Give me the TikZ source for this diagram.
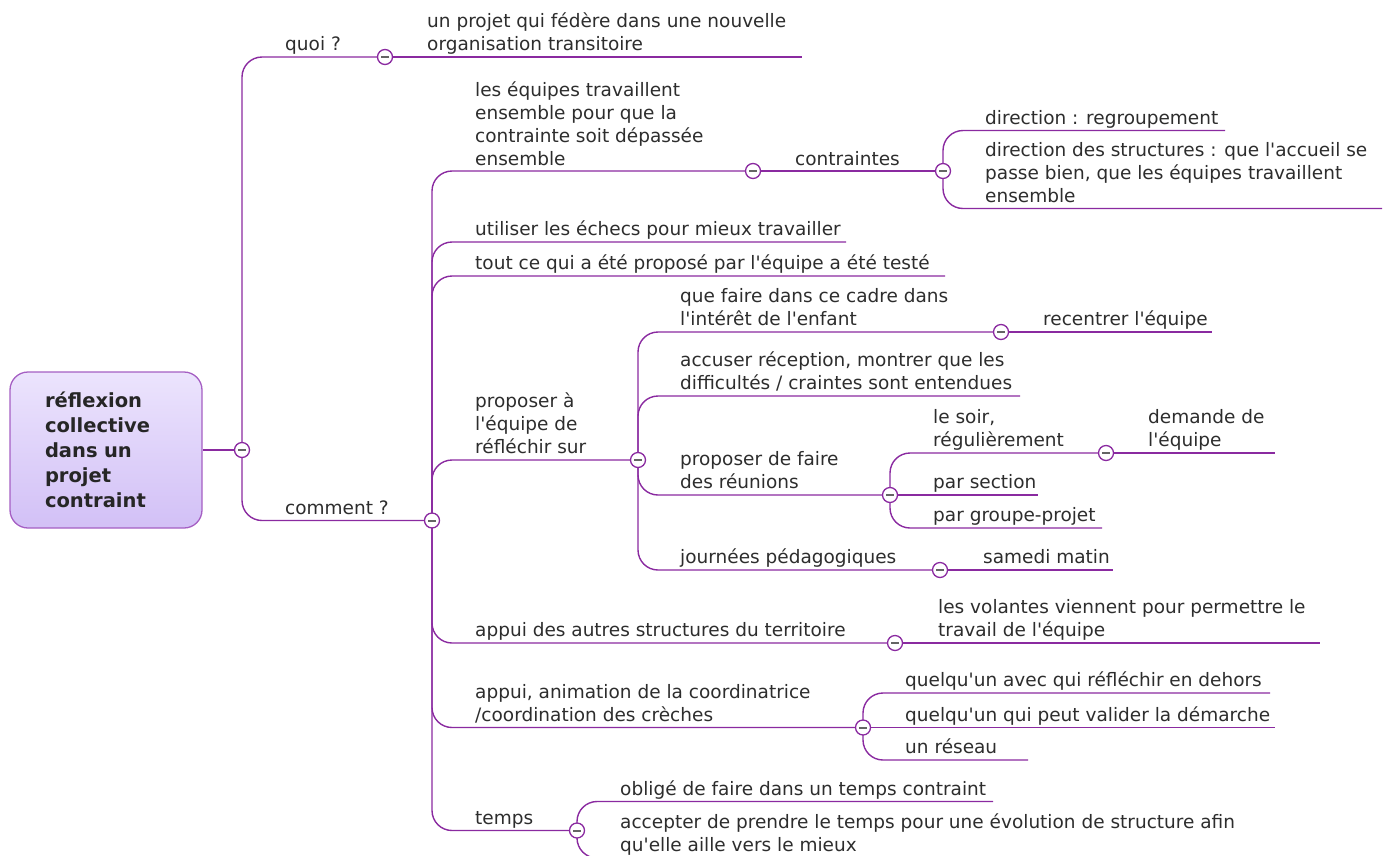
\documentclass[tikz,border=0pt]{standalone}
\usepackage{fontspec}
\setmainfont{DejaVu Sans}
\definecolor{linec}{RGB}{138,42,160}
\definecolor{txtc}{RGB}{45,45,45}
\definecolor{boxline}{RGB}{165,95,195}
\definecolor{boxtop}{RGB}{236,228,253}
\definecolor{boxbot}{RGB}{210,192,246}
\definecolor{minusc}{RGB}{100,100,100}
\newcommand\mlines[1]{\begin{tabular}[b]{@{}l@{}}#1\end{tabular}}
\newcommand\ap{\textquotesingle}
\pgfdeclarelayer{bg}
\pgfsetlayers{bg,main}
\tikzset{
  conn/.style={draw=linec, line width=1.4pt, rounded corners=20pt},
  lbl/.style={anchor=base west, inner sep=0pt, text=txtc, font=\fontsize{18.5}{23}\selectfont},
  knob/.style={circle, draw=linec, fill=white, line width=1.3pt, minimum size=15pt, inner sep=0pt,
    path picture={\draw[minusc, line width=2pt] ([xshift=-3.6pt]path picture bounding box.center) -- ([xshift=3.6pt]path picture bounding box.center);}},
  rootbox/.style={rectangle, rounded corners=18pt, draw=boxline, line width=1.3pt, top color=boxtop, bottom color=boxbot,
    minimum width=192pt, minimum height=156pt, text width=122pt, align=left, inner sep=0pt,
    font=\bfseries\fontsize{19.5}{25}\selectfont, text=black!85}
}
\begin{document}
\begin{tikzpicture}[x=1pt,y=-1pt]
\useasboundingbox (0,0) rectangle (1391,855);

% root
\node[rootbox] (root) at (106,450) {réflexion\\collective\\dans un\\projet\\contraint};

% knobs
\node[knob] (K0) at (242,450) {};
\node[knob] (Kq) at (385,57) {};
\node[knob] (Kc) at (432,520.5) {};
\node[knob] (K1) at (753,171) {};
\node[knob] (K2) at (943,171) {};
\node[knob] (Kp) at (638,460) {};
\node[knob] (Ka) at (1001,332) {};
\node[knob] (Kr) at (890,495) {};
\node[knob] (Ks) at (1106,453) {};
\node[knob] (Kj) at (940,570) {};
\node[knob] (Kv) at (895,643) {};
\node[knob] (Kn) at (863,727.5) {};
\node[knob] (Kt) at (577,830.5) {};

% end points
\coordinate (eq) at (802,57);
\coordinate (e21) at (1225,130.5);
\coordinate (e22) at (1382,208.5);
\coordinate (ec2) at (846,242);
\coordinate (ec3) at (945,276);
\coordinate (ea) at (1212,332);
\coordinate (eb) at (1020,396);
\coordinate (es) at (1275,453);
\coordinate (esec) at (1038,495);
\coordinate (egp) at (1102,528);
\coordinate (ej) at (1113,570);
\coordinate (ev) at (1320,643);
\coordinate (en1) at (1270,693);
\coordinate (en2) at (1275,727.5);
\coordinate (en3) at (1028,760);
\coordinate (et1) at (993,801.5);
\coordinate (et2) at (1250,858);

% connectors
\begin{pgfonlayer}{bg}
\draw[conn] (root.east) -- (K0.center);
\draw[conn] (K0.center) |- (Kq.center);
\draw[conn] (Kq.center) -- (eq);
\draw[conn] (K0.center) |- (Kc.center);
\draw[conn] (Kc.center) |- (K1.center);
\draw[conn] (K1.center) -- (K2.center);
\draw[conn] (K2.center) |- (e21);
\draw[conn] (K2.center) |- (e22);
\draw[conn] (Kc.center) |- (ec2);
\draw[conn] (Kc.center) |- (ec3);
\draw[conn] (Kc.center) |- (Kp.center);
\draw[conn] (Kp.center) |- (Ka.center);
\draw[conn] (Ka.center) -- (ea);
\draw[conn] (Kp.center) |- (eb);
\draw[conn] (Kp.center) |- (Kr.center);
\draw[conn] (Kr.center) |- (Ks.center);
\draw[conn] (Ks.center) -- (es);
\draw[conn] (Kr.center) -- (esec);
\draw[conn] (Kr.center) |- (egp);
\draw[conn] (Kp.center) |- (Kj.center);
\draw[conn] (Kj.center) -- (ej);
\draw[conn] (Kc.center) |- (Kv.center);
\draw[conn] (Kv.center) -- (ev);
\draw[conn] (Kc.center) |- (Kn.center);
\draw[conn] (Kn.center) |- (en1);
\draw[conn] (Kn.center) -- (en2);
\draw[conn] (Kn.center) |- (en3);
\draw[conn] (Kc.center) |- (Kt.center);
\draw[conn] (Kt.center) |- (et1);
\draw[conn] (Kt.center) |- (et2);
\end{pgfonlayer}

% labels
\node[lbl] (tq) at (285,50.5) {quoi ?};
\node[lbl] (tq1) at (427,50.5) {\mlines{un projet qui fédère dans une nouvelle\\organisation transitoire}};
\node[lbl] (tc) at (285,514) {comment ?};
\node[lbl] (t1) at (475,165) {\mlines{les équipes travaillent\\ensemble pour que la\\contrainte soit dépassée\\ensemble}};
\node[lbl] (t2) at (795,165) {contraintes};
\node[lbl] (t21) at (985,124) {direction : regroupement};
\node[lbl] (t22) at (985,202) {\mlines{direction des structures : que l\ap accueil se\\passe bien, que les équipes travaillent\\ensemble}};
\node[lbl] (tc2) at (475,235.5) {utiliser les échecs pour mieux travailler};
\node[lbl] (tc3) at (475,269.5) {tout ce qui a été proposé par l\ap équipe a été testé};
\node[lbl] (tp) at (475,453.5) {\mlines{proposer à\\l\ap équipe de\\réfléchir sur}};
\node[lbl] (ta) at (680,325.5) {\mlines{que faire dans ce cadre dans\\l\ap intérêt de l\ap enfant}};
\node[lbl] (ta1) at (1043,325.5) {recentrer l\ap équipe};
\node[lbl] (tb) at (680,389.5) {\mlines{accuser réception, montrer que les\\difficultés / craintes sont entendues}};
\node[lbl] (tr) at (680,488.5) {\mlines{proposer de faire\\des réunions}};
\node[lbl] (ts) at (933,446.5) {\mlines{le soir,\\régulièrement}};
\node[lbl] (ts1) at (1148,446.5) {\mlines{demande de\\l\ap équipe}};
\node[lbl] (tsec) at (933,488.5) {par section};
\node[lbl] (tgp) at (933,521.5) {par groupe-projet};
\node[lbl] (tj) at (680,563.5) {journées pédagogiques};
\node[lbl] (tj1) at (983,563.5) {samedi matin};
\node[lbl] (tv) at (475,636.5) {appui des autres structures du territoire};
\node[lbl] (tv1) at (938,636.5) {\mlines{les volantes viennent pour permettre le\\travail de l\ap équipe}};
\node[lbl] (tn) at (475,721) {\mlines{appui, animation de la coordinatrice\\/coordination des crèches}};
\node[lbl] (tn1) at (905,686.5) {quelqu\ap un avec qui réfléchir en dehors};
\node[lbl] (tn2) at (905,721) {quelqu\ap un qui peut valider la démarche};
\node[lbl] (tn3) at (905,753.5) {un réseau};
\node[lbl] (tt) at (475,824) {temps};
\node[lbl] (tt1) at (620,795) {obligé de faire dans un temps contraint};
\node[lbl] (tt2) at (620,851.5) {\mlines{accepter de prendre le temps pour une évolution de structure afin\\qu\ap elle aille vers le mieux}};
\end{tikzpicture}
\end{document}
